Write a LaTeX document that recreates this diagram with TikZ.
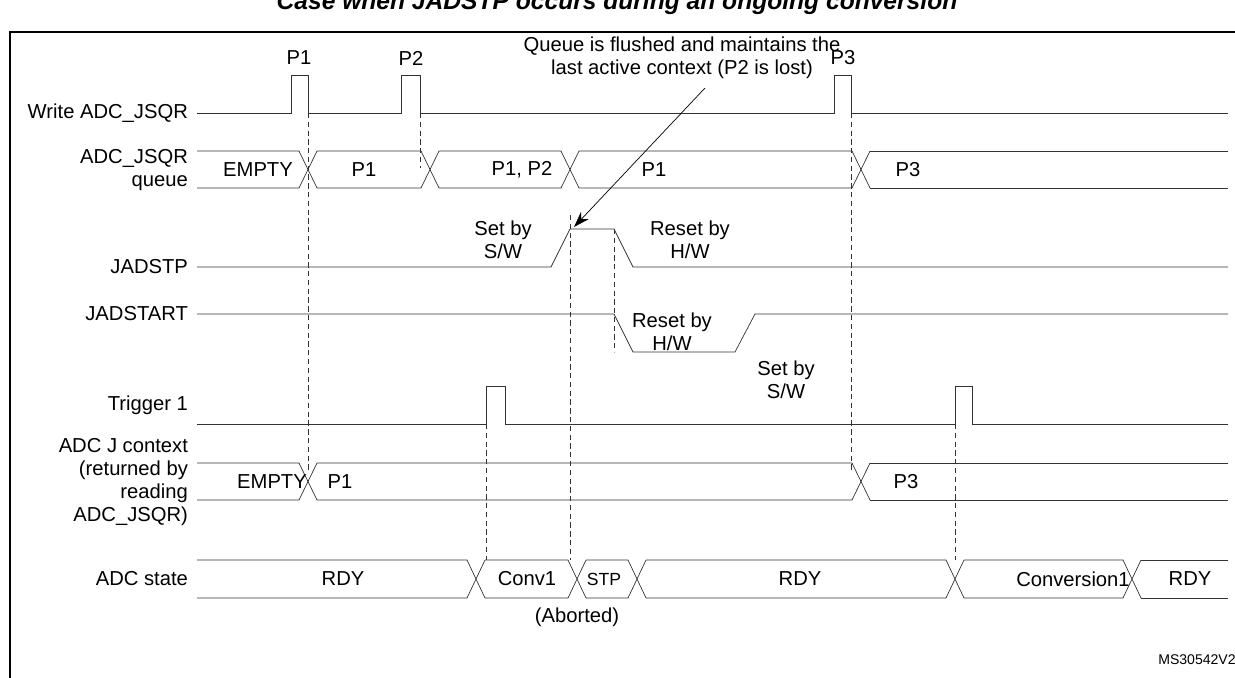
\documentclass[tikz,border=0pt]{standalone}
\usepackage{fontspec}
\setmainfont{Liberation Sans}
\usetikzlibrary{arrows.meta}

\begin{document}
\begin{tikzpicture}[x=0.02cm, y=-0.02cm, >=Stealth,
	lbl/.style = {font=\fontsize{11.5}{13}\selectfont, inner sep=1pt},
	sig/.style = {lbl, anchor=east, align=right},
	wave/.style = {thin, black!80},
	guide/.style = {thin, densely dashed, black!80},
]
	% ------------------------------------------------------------------
	% FRAME
	% ------------------------------------------------------------------
	\useasboundingbox (0,0) rectangle (1235,677);
	\node[font=\bfseries\itshape\fontsize{14}{16}\selectfont] (title) at (617,3) {Case when JADSTP occurs during an ongoing conversion};
	\draw[thick] (10,690) -- (10,32) -- (1240,32);

	% bus: top y, bottom y, start x, end x, crossing centres
	\newcommand{\busline}[5]{%
		\def\yt{#1}\def\yb{#2}\xdef\xo{#3}%
		\foreach \xc in {#5}{%
			\draw[wave] (\xo,\yt) -- (\xc-9,\yt) -- (\xc+9,\yb) (\xo,\yb) -- (\xc-9,\yb) -- (\xc+9,\yt);
			\xdef\xo{\xc+9}}%
		\draw[wave] (\xo,\yt) -- (#4,\yt) (\xo,\yb) -- (#4,\yb);}

	% ------------------------------------------------------------------
	% SIGNAL NAMES
	% ------------------------------------------------------------------
	\node[sig] (wr)   at (190,113) {Write ADC\_JSQR};
	\node[sig] (qu)   at (190,170) {ADC\_JSQR\\queue};
	\node[sig] (stp)  at (190,267) {JADSTP};
	\node[sig] (sta)  at (190,314) {JADSTART};
	\node[sig] (trg)  at (190,405) {Trigger 1};
	\node[sig] (ctx)  at (190,482) {ADC J context\\(returned by\\reading\\ADC\_JSQR)};
	\node[sig] (st)   at (190,579) {ADC state};

	% ------------------------------------------------------------------
	% WAVES
	% ------------------------------------------------------------------
	% write ADC_JSQR
	\draw[wave] (197,113) -- (291,113) -- (291,75) -- (308,75) -- (308,113) -- (401,113) -- (401,75) -- (420,75) -- (420,113)
		-- (834,113) -- (834,75) -- (851,75) -- (851,113) -- (1228,113);
	\node[lbl] (p1) at (299,58) {P1};
	\node[lbl] (p2) at (411,58) {P2};
	\node[lbl] (p3) at (843,58) {P3};

	% queue
	\busline{151}{188}{197}{1228}{308,430,570,861}
	\node[lbl] at (258,170) {EMPTY};
	\node[lbl] at (364,170) {P1};
	\node[lbl] at (522,170) {P1, P2};
	\node[lbl] at (654,170) {P1};
	\node[lbl] at (908,170) {P3};

	% JADSTP
	\draw[wave] (197,267) -- (551,267) -- (570,229) -- (614,229) -- (633,267) -- (1228,267);
	\node[lbl, align=center] at (503,240) {Set by\\S/W};
	\node[lbl, align=center] at (690,240) {Reset by\\H/W};

	% JADSTART
	\draw[wave] (197,314) -- (614,314) -- (633,352) -- (735,352) -- (755,314) -- (1228,314);
	\node[lbl, align=center] at (672,332) {Reset by\\H/W};
	\node[lbl, align=center] at (786,380) {Set by\\S/W};

	% trigger 1
	\draw[wave] (197,424) -- (486,424) -- (486,386) -- (505,386) -- (505,424) -- (955,424) -- (955,386) -- (972,386) -- (972,424) -- (1228,424);

	% ADC J context
	\busline{463}{500}{197}{1228}{308,861}
	\node[lbl] at (272,482) {EMPTY};
	\node[lbl] at (340,482) {P1};
	\node[lbl] at (906,482) {P3};

	% ADC state
	\busline{560}{598}{197}{1228}{476,577,637,955,1132}
	\node[lbl] at (343,579) {RDY};
	\node[lbl] at (527,579) {Conv1};
	\node[lbl, font=\fontsize{10}{11}\selectfont] at (604,579) {STP};
	\node[lbl] at (800,579) {RDY};
	\node[lbl] at (1073,579) {Conversion1};
	\node[lbl] at (1190,579) {RDY};
	\node[lbl] at (577,617) {(Aborted)};

	% ------------------------------------------------------------------
	% MARKERS & NOTE
	% ------------------------------------------------------------------
	\draw[guide] (308,113) -- (308,472);
	\draw[guide] (420,113) -- (420,168);
	\draw[guide] (851,113) -- (851,472);
	\draw[guide] (570,215) -- (570,560);
	\draw[guide] (614,229) -- (614,352);
	\draw[guide] (486,424) -- (486,560);
	\draw[guide] (955,424) -- (955,560);

	\node[lbl, align=center] (note) at (682,58) {Queue is flushed and maintains the\\last active context (P2 is lost)};
	\coordinate (hit) at (574,227);
	\draw[thin, -{Stealth[length=9pt, width=6pt]}] (705,88) -- (hit);

	\node[lbl, font=\fontsize{8}{9}\selectfont] (ref) at (1197,660) {MS30542V2};
\end{tikzpicture}
\end{document}
